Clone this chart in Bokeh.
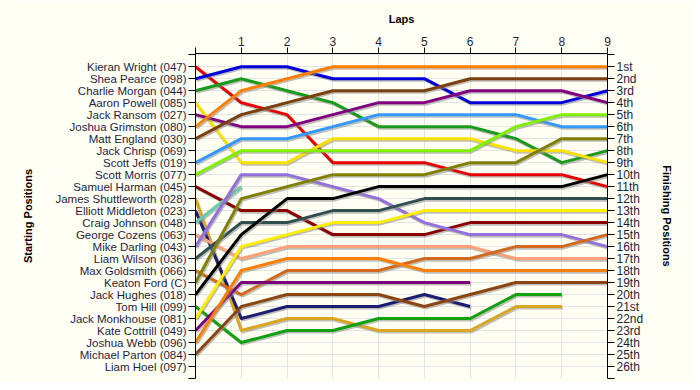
from bokeh.plotting import figure
from bokeh.models import Range1d, LinearAxis, FixedTicker, ColumnDataSource
from bokeh.transform import dodge
from bokeh.embed import file_html
from bokeh.resources import INLINE

# ---------------- data ----------------
laps = list(range(0, 10))

start_names = [
    "Kieran Wright (047)", "Shea Pearce (098)", "Charlie Morgan (044)",
    "Aaron Powell (085)", "Jack Ransom (027)", "Joshua Grimston (080)",
    "Matt England (030)", "Jack Chrisp (069)", "Scott Jeffs (019)",
    "Scott Morris (077)", "Samuel Harman (045)", "James Shuttleworth (028)",
    "Elliott Middleton (023)", "Craig Johnson (048)", "George Cozens (063)",
    "Mike Darling (043)", "Liam Wilson (036)", "Max Goldsmith (066)",
    "Keaton Ford (C)", "Jack Hughes (018)", "Tom Hill (099)",
    "Jack Monkhouse (081)", "Kate Cottrill (049)", "Joshua Webb (096)",
    "Michael Parton (084)", "Liam Hoel (097)",
]

finish_labels = [
    "1st", "2nd", "3rd", "4th", "5th", "6th", "7th", "8th", "9th", "10th",
    "11th", "12th", "13th", "14th", "15th", "16th", "17th", "18th", "19th",
    "20th", "21st", "22nd", "23rd", "24th", "25th", "26th",
]

# position after each lap (lap 0 = start); shorter lists = retired / lapped
positions = {
    "Kieran Wright (047)":      [1, 4, 5, 9, 9, 9, 10, 10, 10, 11],
    "Shea Pearce (098)":        [2, 1, 1, 2, 2, 2, 4, 4, 4, 3],
    "Charlie Morgan (044)":     [3, 2, 3, 4, 6, 6, 6, 7, 9, 8],
    "Aaron Powell (085)":       [4, 9, 9, 7, 7, 7, 7, 8, 8, 9],
    "Jack Ransom (027)":        [5, 6, 6, 5, 4, 4, 3, 3, 3, 4],
    "Joshua Grimston (080)":    [6, 3, 2, 1, 1, 1, 1, 1, 1, 1],
    "Matt England (030)":       [7, 5, 4, 3, 3, 3, 2, 2, 2, 2],
    "Scott Jeffs (019)":        [9, 7, 7, 6, 5, 5, 5, 5, 6, 6],
    "Scott Morris (077)":       [10, 8, 8, 8, 8, 8, 8, 6, 5, 5],
    "Samuel Harman (045)":      [11, 13, 13, 15, 15, 15, 14, 14, 14, 14],
    "James Shuttleworth (028)": [12, 23, 22, 22, 23, 23, 23, 21, 21],
    "Elliott Middleton (023)":  [13, 22, 21, 21, 21, 20, 21],
    "Craig Johnson (048)":      [14, 11],
    "George Cozens (063)":      [15, 17, 16, 16, 16, 16, 16, 17, 17, 17],
    "Mike Darling (043)":       [16, 10, 10, 11, 12, 14, 15, 15, 15, 16],
    "Liam Wilson (036)":        [17, 14, 14, 13, 13, 12, 12, 12, 12, 12],
    "Max Goldsmith (066)":      [18, 20, 18, 18, 18, 17, 17, 16, 16, 15],
    "Keaton Ford (C)":          [19, 12, 11, 10, 10, 10, 9, 9, 7, 7],
    "Jack Hughes (018)":        [20, 15, 12, 12, 11, 11, 11, 11, 11, 10],
    "Tom Hill (099)":           [21, 24, 23, 23, 22, 22, 22, 20, 20],
    "Jack Monkhouse (081)":     [22, 16, 15, 14, 14, 13, 13, 13, 13, 13],
    "Kate Cottrill (049)":      [23, 19, 19, 19, 19, 19, 19],
    "Joshua Webb (096)":        [24, 18, 17, 17, 17, 18, 18, 18, 18, 18],
    "Michael Parton (084)":     [25, 21, 20, 20, 20, 21, 20, 19, 19, 19],
}

colors = {
    "Kieran Wright (047)": "#e80000",
    "Shea Pearce (098)": "#0000d8",
    "Charlie Morgan (044)": "#1a9a1a",
    "Aaron Powell (085)": "#f8e000",
    "Jack Ransom (027)": "#800080",
    "Joshua Grimston (080)": "#ff8000",
    "Matt England (030)": "#7a4010",
    "Scott Jeffs (019)": "#3399ff",
    "Scott Morris (077)": "#80f000",
    "Samuel Harman (045)": "#880000",
    "James Shuttleworth (028)": "#daa520",
    "Elliott Middleton (023)": "#1c1c70",
    "Craig Johnson (048)": "#66cdaa",
    "George Cozens (063)": "#ffa07a",
    "Mike Darling (043)": "#9370db",
    "Liam Wilson (036)": "#2f4f4f",
    "Max Goldsmith (066)": "#d2691e",
    "Keaton Ford (C)": "#808000",
    "Jack Hughes (018)": "#000000",
    "Tom Hill (099)": "#10a010",
    "Jack Monkhouse (081)": "#ffee00",
    "Kate Cottrill (049)": "#7a007a",
    "Joshua Webb (096)": "#ff7f00",
    "Michael Parton (084)": "#8b4513",
}

# ---------------- figure ----------------
BG = "#fffff3"
TXT = "#1e1e3c"
FONT = "Liberation Sans"

n_rows = len(start_names)
row_ticks = list(range(0, n_rows + 2))

p = figure(width=692, height=382,
           x_range=Range1d(0, laps[-1]), y_range=Range1d(n_rows + 1, -0.1),
           x_axis_location="above", y_axis_location="left",
           output_backend="svg", toolbar_location=None,
           min_border_left=195, min_border_right=85,
           min_border_top=53, min_border_bottom=4)
p.background_fill_color = BG
p.border_fill_color = BG
p.outline_line_color = None

# grid
p.xgrid.ticker = FixedTicker(ticks=laps)
p.ygrid.ticker = FixedTicker(ticks=row_ticks)
p.xgrid.grid_line_color = "#e4e4e4"
p.ygrid.grid_line_color = "#e4e4e4"

def style_axis(ax, size="12px"):
    ax.axis_line_color = "black"
    ax.major_tick_line_color = "black"
    ax.minor_tick_line_color = None
    ax.major_tick_in = 0
    ax.major_tick_out = 7
    ax.major_label_text_font = FONT
    ax.major_label_text_font_size = size
    ax.major_label_text_color = TXT
    ax.major_label_standoff = 2
    ax.axis_label_text_font = FONT
    ax.axis_label_text_font_size = "11px"
    ax.axis_label_text_font_style = "bold"
    ax.axis_label_text_color = "black"

# top axis (laps)
xa = p.xaxis[0]
xa.ticker = FixedTicker(ticks=laps)
xa.major_label_overrides = {0: ""}
xa.axis_label = "Laps"
style_axis(xa)
xa.major_tick_out = 6
xa.axis_label_standoff = 9

# left axis (starting positions)
ya = p.yaxis[0]
ya.ticker = FixedTicker(ticks=row_ticks)
left_over = {0: "", n_rows + 1: ""}
for i, nm in enumerate(start_names):
    left_over[i + 1] = nm
ya.major_label_overrides = left_over
ya.axis_label = "Starting Positions"
style_axis(ya, "11.5px")
ya.axis_label_standoff = 18

# right axis (finishing positions)
ra = LinearAxis(ticker=FixedTicker(ticks=row_ticks))
right_over = {0: "", n_rows + 1: ""}
for i, lb in enumerate(finish_labels):
    right_over[i + 1] = lb
ra.major_label_overrides = right_over
ra.axis_label = "Finishing Positions"
style_axis(ra)
ra.axis_label_standoff = 15
p.add_layout(ra, "right")

# lines with soft drop shadow
for nm in start_names:
    if nm not in positions:
        continue
    pos = positions[nm]
    src = ColumnDataSource(dict(lap=laps[:len(pos)], pos=pos))
    p.line(x=dodge("lap", 0.025), y=dodge("pos", 0.13), source=src,
           line_color="#8a8a8a", line_alpha=0.55, line_width=3,
           line_join="round")
    p.line(x="lap", y="pos", source=src, line_color=colors[nm],
           line_width=3, line_join="round")

open("out.html", "w").write(file_html(p, INLINE))
